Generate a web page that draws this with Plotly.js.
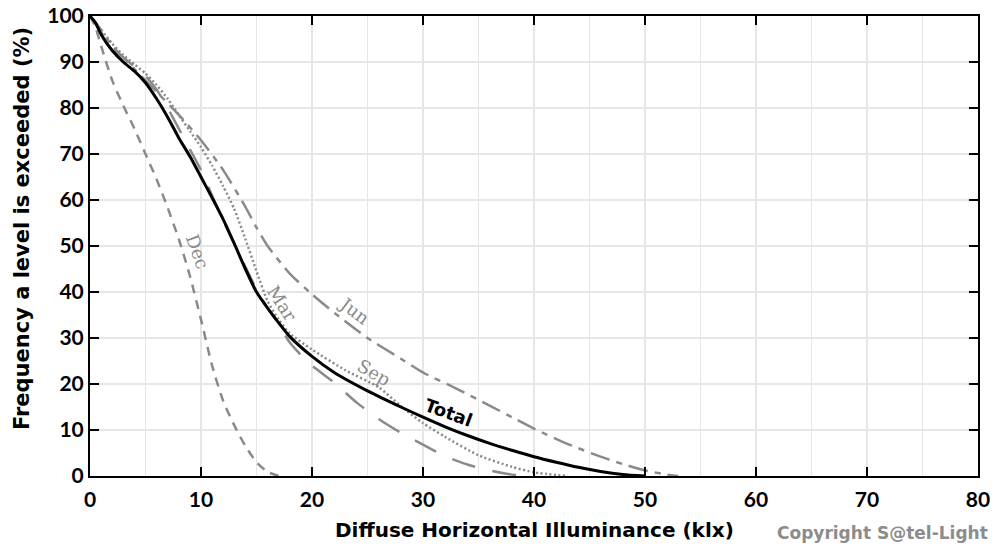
<!DOCTYPE html>
<html>
<head>
<meta charset="utf-8">
<script src="https://cdn.plot.ly/plotly-3.0.1.min.js"></script>
<style>html,body{margin:0;padding:0;background:#fff;}#chart{width:997px;height:547px;}</style>
</head>
<body>
<div id="chart"></div>
<script>
// Diffuse horizontal illuminance (klx) vs frequency a level is exceeded (%)
const totalX = [0,0.5,1,2,3,4,5,6,7,8,9,10,11,12,13,14,15,16,17,18,20,22,25,28,30,32,34,36,38,40,42,44,46,48,50];
const totalY = [100,98.5,96,92.5,90,88,85.5,82,78,73.5,69.5,65,60.5,55.8,50.5,45,40,36.5,33.3,30.3,26,22.5,18.5,15,12.8,10.7,8.8,7.1,5.6,4.2,3,1.9,1,0.35,0];

const decX = [0,0.5,1,2,3,4,5,6,7,8,9,10,11,12,13,14,15,16,17];
const decY = [100,97.5,93.5,86,80.5,75.5,70,64.5,58.3,51.5,43.5,34,24,16.3,11,6.5,3,0.9,0];

const marX = [0,1,2,3,4,5,6,7,8,9,10,11,12,13,14,15,16,17,18,19,20,22,24,26,28,30,32,34,36,38,40];
const marY = [100,96.5,93,91,89,87,84,80,75.5,71,66.5,61,55.5,50.5,45.5,40.5,36.5,33,29,26.3,24,20.3,16,12.4,9.4,6.8,4.3,2.5,1.2,0.3,0];

const junX = [0,1,2,4,6,8,10,12,14,15,16,18,20,22,25,28,30,33,36,38,40,43,46,48,50,52,53];
const junY = [100,97,93.5,88.5,83.5,78.5,73,66.5,58.5,54,50,44,39.5,35.5,30,25.5,22.5,19,15.3,12.8,10.3,7,4.2,2.6,1.2,0.3,0];

const sepX = [0,0.5,1,2,3,4,5,6,7,8,9,10,11,12,13,14,15,16,17,18,20,23,26,28,30,32,35,38,40,43];
const sepY = [100,98.5,97,94,91.5,89.5,87.5,85,82,78.5,75,71.5,67.5,63,58,51.5,44.5,38,34,31,27.5,23,19.3,15.2,11.5,8.5,4.5,2,0.8,0];

const xTicks = [0,10,20,30,40,50,60,70,80];
const yTicks = [0,10,20,30,40,50,60,70,80,90,100];

const labelNames = ["Dec","Mar","Jun","Sep","Total"];
const labelX = [9.7,17.3,23.8,25.6,32.3];
const labelY = [48.8,37.5,36,22.6,13.8];
const labelAngles = [70,57,37,30,20];

const xTitle = "Diffuse Horizontal Illuminance (klx)";
const yTitle = "Frequency a level is exceeded (%)";
const credit = "Copyright S@tel-Light";

const gray = "#8a8a8a";
const traces = [
  {x: decX, y: decY, mode: "lines", line: {color: gray, width: 2.5, dash: "9px,7px"}},
  {x: marX, y: marY, mode: "lines", line: {color: gray, width: 2.5, dash: "24px,18px"}},
  {x: junX, y: junY, mode: "lines", line: {color: gray, width: 2.5, dash: "20px,7px,6px,7px"}},
  {x: sepX, y: sepY, mode: "lines", line: {color: gray, width: 2.5, dash: "2px,2.5px"}},
  {x: totalX, y: totalY, mode: "lines", line: {color: "#000", width: 3}}
];
traces.forEach(t => { t.showlegend = false; t.hoverinfo = "skip"; t.line.shape = "spline"; t.line.smoothing = 0.6; });

const annotations = labelNames.map((n, i) => ({
  x: labelX[i], y: labelY[i], xref: "x", yref: "y", text: n, showarrow: false,
  textangle: labelAngles[i],
  font: i === 4 ? {family: "DejaVu Sans", size: 18, color: "#000", weight: "bold"}
                : {family: "DejaVu Serif", size: 18, color: gray}
}));
annotations.push({
  x: -0.0766, y: 0.539, xref: "paper", yref: "paper", text: yTitle,
  textangle: -90, showarrow: false, xanchor: "center", yanchor: "middle",
  font: {family: "DejaVu Sans", size: 21, color: "#000", weight: "bold"}
});
annotations.push({
  x: 0.501, y: -0.118, xref: "paper", yref: "paper", text: xTitle,
  showarrow: false, xanchor: "center", yanchor: "middle",
  font: {family: "DejaVu Sans", size: 20, color: "#000", weight: "bold"}
});
annotations.push({
  x: 1.0135, y: -0.124, xref: "paper", yref: "paper", text: credit,
  showarrow: false, xanchor: "right", yanchor: "middle",
  font: {family: "DejaVu Sans", size: 17, color: "#8c8c8c", weight: "bold"}
});

const tickFont = {family: "Lato", size: 21, color: "#000", weight: "bold"};
const layout = {
  width: 997, height: 547,
  margin: {l: 90, r: 19, t: 16, b: 71},
  paper_bgcolor: "#fff", plot_bgcolor: "#fff",
  xaxis: {
    range: [0, 80], tickvals: xTicks, ticktext: xTicks.map(String),
    ticks: "inside", ticklen: 9, tickwidth: 2, tickcolor: "#000",
    showline: true, linecolor: "#000", linewidth: 2, mirror: "ticks",
    showgrid: true, gridcolor: "#e6e6e6", gridwidth: 1.5,
    minor: {dtick: 5, tick0: 0, showgrid: true, gridcolor: "#e6e6e6", gridwidth: 1.5, ticks: ""},
    zeroline: false, ticklabelstandoff: 4,
    tickfont: tickFont
  },
  yaxis: {
    range: [0, 100], tickvals: yTicks, ticktext: yTicks.map(String),
    ticks: "inside", ticklen: 9, tickwidth: 2, tickcolor: "#000",
    showline: true, linecolor: "#000", linewidth: 2, mirror: "ticks",
    showgrid: true, gridcolor: "#e6e6e6", gridwidth: 1.5,
    zeroline: false,
    tickfont: tickFont
  },
  annotations: annotations
};

Plotly.newPlot("chart", traces, layout, {staticPlot: true});
</script>
</body>
</html>
